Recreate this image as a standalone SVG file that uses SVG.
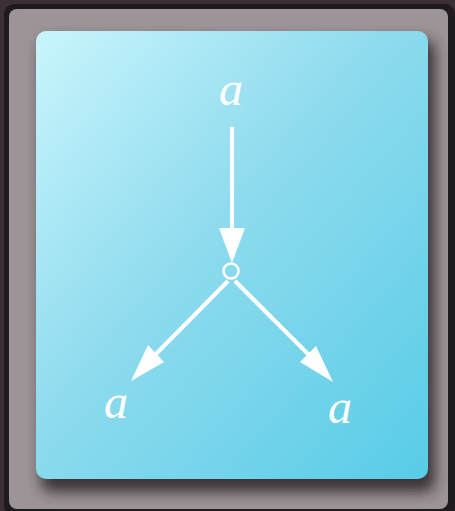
<svg xmlns="http://www.w3.org/2000/svg" width="455" height="511" viewBox="0 0 455 511">
<defs>
<linearGradient id="card" x1="0" y1="0" x2="1" y2="1">
<stop offset="0" stop-color="#c9f5fc"/>
<stop offset="0.45" stop-color="#8edbee"/>
<stop offset="1" stop-color="#58cce7"/>
</linearGradient>
<filter id="sh" x="-10%" y="-10%" width="130%" height="130%">
<feGaussianBlur stdDeviation="7"/>
</filter>
<style>
.lbl{font-family:"Liberation Serif","DejaVu Serif",serif;font-style:italic;font-size:48px;fill:#ffffff;text-anchor:middle}
.edge{stroke:#ffffff;stroke-width:4;fill:none}
.head{fill:#ffffff}
</style>
</defs>
<rect x="0" y="0" width="455" height="511" fill="#3a3035"/>
<rect x="4" y="4" width="451" height="512" rx="10" fill="#1f1a1d"/>
<rect x="9" y="9" width="439" height="500" rx="8" fill="#9c9497"/>
<rect x="41" y="40" width="394" height="452" rx="10" fill="#2a2326" opacity="0.85" filter="url(#sh)"/>
<rect x="36" y="31" width="392" height="448" rx="10" fill="url(#card)"/>
<g id="connectors">
<line class="edge" x1="232" y1="127" x2="232" y2="232"/>
<polygon class="head" points="219,228 245,228 232,263"/>
<line class="edge" x1="228" y1="281" x2="152" y2="358"/>
<polygon class="head" points="148,345 164,362 131,381"/>
<line class="edge" x1="235" y1="281" x2="312" y2="358"/>
<polygon class="head" points="300,362 316,346 333,382"/>
</g>
<g id="top"><text class="lbl" x="231" y="105">a</text></g>
<g id="center"><circle cx="231" cy="271" r="7.5" fill="none" stroke="#ffffff" stroke-width="2.5"/></g>
<g id="left"><text class="lbl" x="116" y="418">a</text></g>
<g id="right"><text class="lbl" x="340" y="423">a</text></g>
</svg>
